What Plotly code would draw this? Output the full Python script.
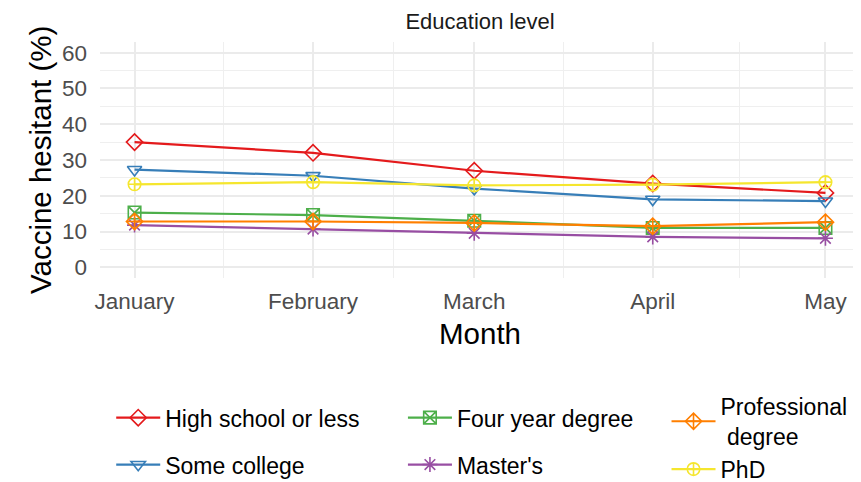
import pandas as pd
import plotly.graph_objects as go

months = ["2021-01-01", "2021-02-01", "2021-03-01", "2021-04-01", "2021-05-01"]
month_labels = ["January", "February", "March", "April", "May"]

high_school = [35.0, 32.0, 27.0, 23.4, 20.8]
some_college = [27.3, 25.6, 22.0, 19.0, 18.5]
four_year = [15.3, 14.6, 13.0, 11.0, 11.0]
masters = [11.8, 10.7, 9.5, 8.5, 8.1]
professional = [12.8, 12.8, 12.4, 11.5, 12.6]
phd = [23.2, 23.8, 22.9, 23.1, 23.8]

y_ticks = [0, 10, 20, 30, 40, 50, 60]

series = [
    ("High school or less", high_school, "#E41A1C", "diamond-open", "legend"),
    ("Some college", some_college, "#377EB8", "triangle-down-open", "legend"),
    ("Four year degree", four_year, "#4DAF4A", "square-x-open", "legend2"),
    ("Master's", masters, "#984EA3", "asterisk-open", "legend2"),
    ("Professional<br>\u00a0degree", professional, "#FF7F00", "diamond-cross-open", "legend3"),
    ("PhD", phd, "#F5E62E", "circle-cross-open", "legend3"),
]

FONT = "Liberation Sans, Arial, sans-serif"

fig = go.Figure()
for name, vals, color, symbol, leg in series:
    fig.add_trace(go.Scatter(
        x=pd.to_datetime(months), y=vals, name=name, mode="lines+markers",
        line=dict(color=color, width=2.2),
        marker=dict(symbol=symbol, size=12.5, color=color, line=dict(color=color, width=1.6)),
        legend=leg, legendgroup=name,
    ))

dates = pd.to_datetime(months)
pad = pd.Timedelta(days=6)
minor_x = [dates[i] + (dates[i + 1] - dates[i]) / 2 for i in range(len(dates) - 1)]


def leg(x, y, gap):
    return dict(
        x=x, y=y, font=dict(family=FONT, size=23, color="#000000"),
        bgcolor="rgba(0,0,0,0)", xref="container", yref="container",
        xanchor="left", yanchor="top", orientation="v", tracegroupgap=gap, itemwidth=44,
    )


fig.update_layout(
    width=853, height=474,
    margin=dict(l=92, r=1, t=34, b=204, autoexpand=False),
    paper_bgcolor="white", plot_bgcolor="white",
    font=dict(family=FONT, size=22, color="#4D4D4D"),
    title=dict(text="Education level", x=0.5, xref="paper", xanchor="center",
               y=1 - 13 / 474, yref="container", yanchor="middle",
               font=dict(family=FONT, size=22, color="#1A1A1A")),
    xaxis=dict(
        type="date", range=[dates[0] - pad, dates[-1] + pad],
        tickvals=dates, ticktext=month_labels, ticks="", showline=False, zeroline=False,
        showgrid=True, gridcolor="#EBEBEB", gridwidth=1.7, tickangle=0, automargin=False,
        minor=dict(tickvals=minor_x, showgrid=True, gridcolor="#EFEFEF", gridwidth=0.9),
        tickfont=dict(family=FONT, size=22.5, color="#4D4D4D"),
        ticklabelstandoff=7,
    ),
    yaxis=dict(
        range=[-3, 63], tickvals=y_ticks, ticks="", showline=False, zeroline=False,
        showgrid=True, gridcolor="#EBEBEB", gridwidth=1.7, automargin=False,
        minor=dict(dtick=5, tick0=0, showgrid=True, gridcolor="#EFEFEF", gridwidth=0.9),
        tickfont=dict(family=FONT, size=22.5, color="#4D4D4D"),
        ticklabelstandoff=12,
    ),
    annotations=[
        dict(text="Month", xref="paper", yref="paper", x=0.5, y=-55 / 236,
             xanchor="center", yanchor="middle", showarrow=False,
             font=dict(family=FONT, size=29.5, color="#000000")),
        dict(text="Vaccine hesitant (%)", xref="paper", yref="paper", x=(32 - 92) / 760, y=0.5,
             xanchor="center", yanchor="middle", showarrow=False, textangle=-90,
             font=dict(family=FONT, size=29.5, color="#000000")),
    ],
    legend=leg(0.121, 0.181, 14),
    legend2=leg(0.463, 0.181, 14),
    legend3=leg(0.772, 0.205, 0),
    showlegend=True,
)

fig.write_html("out.html")
